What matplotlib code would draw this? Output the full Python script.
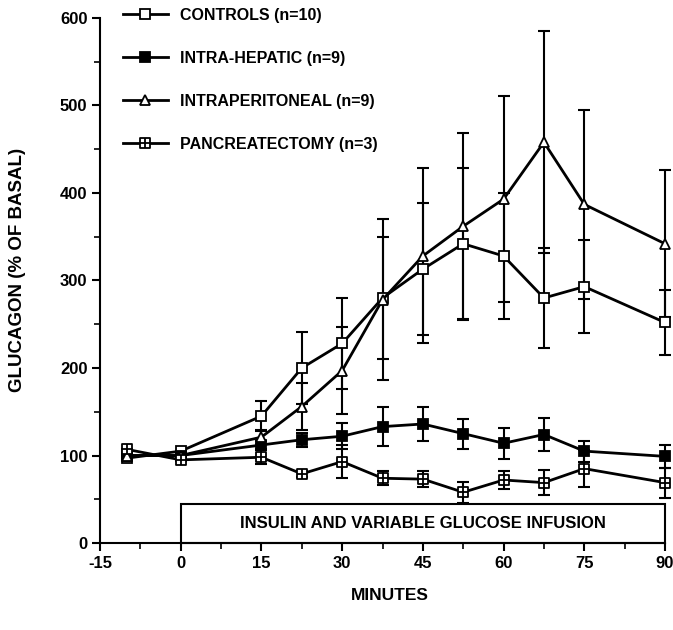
import matplotlib
matplotlib.use("Agg")
import matplotlib.pyplot as plt
import matplotlib.path as mpath
from matplotlib.patches import Rectangle

plt.rcParams['font.family'] = ['Liberation Sans', 'DejaVu Sans']
plt.rcParams['font.weight'] = 'bold'
plt.rcParams['axes.unicode_minus'] = False

# minutes
t = [-10, 0, 15, 22.5, 30, 37.5, 45, 52.5, 60, 67.5, 75, 90]

controls = [97, 105, 145, 200, 228, 280, 313, 342, 328, 280, 293, 252]
controls_err = [0, 0, 17, 41, 52, 70, 75, 86, 72, 57, 53, 37]

hepatic = [100, 100, 112, 118, 122, 133, 136, 125, 114, 124, 105, 99]
hepatic_err = [0, 0, 5, 8, 15, 22, 19, 17, 18, 19, 12, 13]

perit = [100, 100, 121, 156, 197, 278, 328, 362, 393, 458, 387, 342]
perit_err = [0, 0, 8, 27, 50, 92, 100, 107, 118, 127, 108, 84]

panc = [107, 95, 98, 79, 93, 74, 73, 58, 72, 69, 85, 69]
panc_err = [0, 0, 8, 3, 19, 8, 9, 12, 10, 14, 21, 17]

labels = ["CONTROLS (n=10)", "INTRA-HEPATIC (n=9)",
          "INTRAPERITONEAL (n=9)", "PANCREATECTOMY (n=3)"]

# square with a cross inside
sq_cross = mpath.Path(
    [(-1, -1), (1, -1), (1, 1), (-1, 1), (-1, -1),
     (0, -1), (0, 1), (-1, 0), (1, 0)],
    [1, 2, 2, 2, 79, 1, 2, 1, 2])

fig = plt.figure(figsize=(6.73, 6.30), dpi=100)
ax = fig.add_axes([100/673, 87/630, 565/673, 525/630])

series = [
    (controls, controls_err, dict(marker='s', mfc='white', ms=6.5)),
    (hepatic, hepatic_err, dict(marker='s', mfc='black', ms=6.5)),
    (perit, perit_err, dict(marker='^', mfc='white', ms=7)),
    (panc, panc_err, dict(marker=sq_cross, mfc='white', ms=6.5)),
]
handles = []
for (y, e, st), lab in zip(series, labels):
    eb = ax.errorbar(t, y, yerr=e, fmt='none', ecolor='black', elinewidth=1.5,
                     capsize=4.5, capthick=1.5, zorder=2)
    for art in eb.get_children():
        art.set_clip_on(False)
    h, = ax.plot(t, y, color='black', lw=2, mec='black', mew=1.3,
                 label=lab, zorder=3, clip_on=False, **st)
    handles.append(h)

ax.add_patch(Rectangle((0, 0), 90, 45, fill=False, edgecolor='black',
                       lw=1.5, zorder=1, clip_on=False))
ax.text(45, 22, "INSULIN AND VARIABLE GLUCOSE INFUSION", ha='center',
        va='center', fontsize=12, fontweight='bold')

ax.set_xlim(-15, 90)
ax.set_ylim(0, 600)
ax.set_xticks(range(-15, 91, 15))
ax.set_xticks([x + 7.5 for x in range(-15, 90, 15)], minor=True)
ax.set_yticks(range(0, 601, 100))
ax.set_yticks(range(50, 600, 100), minor=True)
for s in ['top', 'right']:
    ax.spines[s].set_visible(False)
for s in ['left', 'bottom']:
    ax.spines[s].set_linewidth(1.5)
ax.tick_params(which='major', length=6, width=1.5, labelsize=12, pad=3)
ax.tick_params(which='minor', length=4, width=1.2)
for lb in ax.get_xticklabels() + ax.get_yticklabels():
    lb.set_fontweight('bold')

fig.text(18/673, 1 - 270/630, "GLUCAGON (% OF BASAL)", rotation=90,
         ha='center', va='center', fontsize=13.5, fontweight='bold')
fig.text(390/673, 1 - 596/630, "MINUTES", ha='center', va='center',
         fontsize=12.5, fontweight='bold')

fig.legend(handles=handles, loc='upper left',
           bbox_to_anchor=(123/673, 1 - 8/630), frameon=False,
           fontsize=11.5, handlelength=2.8, handletextpad=0.8,
           labelspacing=1.75, borderpad=0, borderaxespad=0)

fig.savefig("out.png", dpi=100)
